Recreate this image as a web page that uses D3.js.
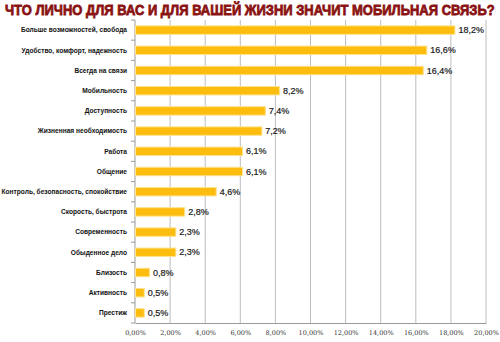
<!DOCTYPE html>
<html>
<head>
<meta charset="utf-8">
<script src="https://cdn.jsdelivr.net/npm/d3@7"></script>
<style>
  html, body { margin: 0; padding: 0; background: #fff; }
  svg { display: block; }
</style>
</head>
<body>
<svg id="chart" width="500" height="342"></svg>
<script>
// Answers to the survey question, in percent of respondents
const categories = [
  "Больше возможностей, свобода",
  "Удобство, комфорт, надежность",
  "Всегда на связи",
  "Мобильность",
  "Доступность",
  "Жизненная необходимость",
  "Работа",
  "Общение",
  "Контроль, безопасность, спокойствие",
  "Скорость, быстрота",
  "Современность",
  "Обыденное дело",
  "Близость",
  "Активность",
  "Престиж"
];
const values = [18.2, 16.6, 16.4, 8.2, 7.4, 7.2, 6.1, 6.1, 4.6, 2.8, 2.3, 2.3, 0.8, 0.5, 0.5];
const xTicks = [0, 2, 4, 6, 8, 10, 12, 14, 16, 18, 20];
const title = "ЧТО ЛИЧНО ДЛЯ ВАС И ДЛЯ ВАШЕЙ ЖИЗНИ ЗНАЧИТ МОБИЛЬНАЯ СВЯЗЬ?";

const svg = d3.select("#chart");
const plotLeft = 135, plotRight = 486, plotTop = 20, plotBottom = 323;

const x = d3.scaleLinear().domain([0, 20]).range([plotLeft, plotRight]);
const y = d3.scaleBand().domain(categories).range([plotTop, plotBottom]).paddingInner(0.58).paddingOuter(0.29);

// title, squeezed horizontally to span the chart width
const titleG = svg.append("g");
const titleText = titleG.append("text")
  .attr("x", 0).attr("y", 0)
  .style("font-family", "'Liberation Sans', Arial, sans-serif")
  .style("font-weight", "bold")
  .style("font-size", "15px")
  .style("fill", "#8a1212")
  .style("stroke", "#8a1212").style("stroke-width", 0.8)
  .text(title);
const titleWidth = titleText.node().getComputedTextLength();
titleG.attr("transform", `translate(5,15.3) scale(${490 / titleWidth},1)`);

// vertical gridlines
svg.append("g").selectAll("line")
  .data(xTicks.slice(1))
  .join("line")
  .attr("x1", d => x(d)).attr("x2", d => x(d))
  .attr("y1", plotTop).attr("y2", plotBottom)
  .attr("stroke", "#bdbdbd").attr("stroke-width", 1);

// bottom axis
const xAxis = d3.axisBottom(x)
  .tickValues(xTicks)
  .tickSize(0).tickPadding(7)
  .tickFormat(d => d3.format(".2f")(d).replace(".", ",") + "%");
const gx = svg.append("g").attr("transform", `translate(0,${plotBottom})`).call(xAxis);
gx.select(".domain").attr("stroke", "#9a9a9a");
gx.selectAll("text")
  .style("font-family", "'DejaVu Serif', serif")
  .style("font-size", "6.5px")
  .style("fill", "#333");

// left axis with ticks between categories
svg.append("line")
  .attr("x1", plotLeft).attr("x2", plotLeft).attr("y1", plotTop).attr("y2", plotBottom)
  .attr("stroke", "#9a9a9a");
svg.append("g").selectAll("line")
  .data(d3.range(categories.length + 1))
  .join("line")
  .attr("x1", plotLeft - 4).attr("x2", plotLeft)
  .attr("y1", i => plotTop + i * (plotBottom - plotTop) / categories.length)
  .attr("y2", i => plotTop + i * (plotBottom - plotTop) / categories.length)
  .attr("stroke", "#9a9a9a");

// category labels
svg.append("g").selectAll("text")
  .data(categories)
  .join("text")
  .attr("x", plotLeft - 8)
  .attr("y", d => y(d) + y.bandwidth() / 2)
  .attr("dy", "0.35em")
  .attr("text-anchor", "end")
  .style("font-family", "'Liberation Sans', Arial, sans-serif")
  .style("font-weight", "bold")
  .style("font-size", "6.6px")
  .style("fill", "#111")
  .text(d => d);

// bars
svg.append("g").selectAll("rect")
  .data(values)
  .join("rect")
  .attr("x", x(0) + 0.5)
  .attr("y", (d, i) => y(categories[i]))
  .attr("width", d => x(d) - x(0))
  .attr("height", y.bandwidth())
  .attr("fill", "#fdbd0f")
  .attr("stroke", "#ffe38f").attr("stroke-width", 1);

// value labels
svg.append("g").selectAll("text")
  .data(values)
  .join("text")
  .attr("x", d => x(d) + 4)
  .attr("y", (d, i) => y(categories[i]) + y.bandwidth() / 2)
  .attr("dy", "0.35em")
  .style("font-family", "'Liberation Sans', Arial, sans-serif")
  .style("font-size", "9px")
  .style("fill", "#1a1a1a")
  .style("stroke", "#1a1a1a").style("stroke-width", 0.2)
  .text(d => d.toFixed(1).replace(".", ",") + "%");
</script>
</body>
</html>
